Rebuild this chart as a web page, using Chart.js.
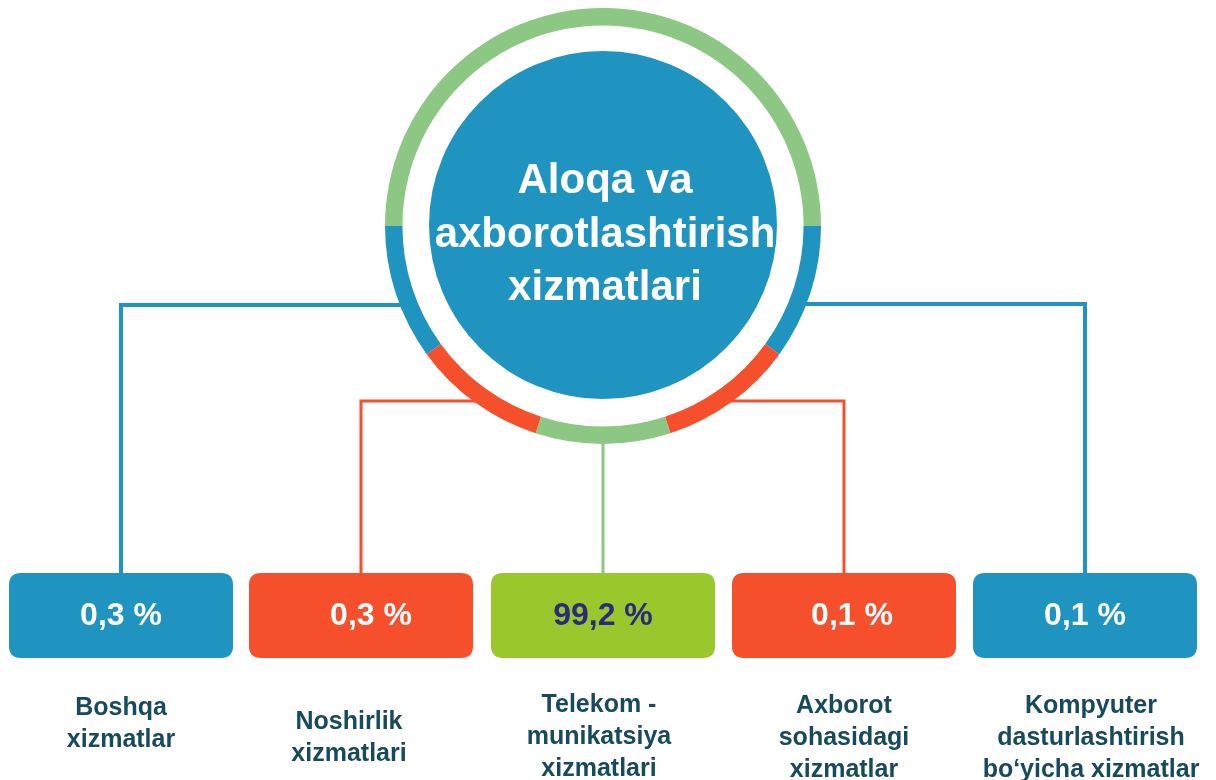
<!DOCTYPE html>
<html>
<head>
<meta charset="utf-8">
<title>Aloqa va axborotlashtirish xizmatlari</title>
<script src="https://cdn.jsdelivr.net/npm/chart.js@4/dist/chart.umd.min.js"></script>
<style>
  html, body { margin: 0; padding: 0; background: #fff; }
  canvas { display: block; }
</style>
</head>
<body>
<canvas id="ring" width="1216" height="780"></canvas>
<script>
// data
const title = ['Aloqa va', 'axborotlashtirish', 'xizmatlari'];
const categories = [
    ['Boshqa', 'xizmatlar'],
    ['Noshirlik', 'xizmatlari'],
    ['Telekom -', 'munikatsiya', 'xizmatlari'],
    ['Axborot', 'sohasidagi', 'xizmatlar'],
    ['Kompyuter', 'dasturlashtirish', 'bo‘yicha xizmatlar']
];
const shares = [0.3, 0.3, 99.2, 0.1, 0.1];

// decorative ring, in degrees, clockwise from 9 o'clock
const ringSpans = [180, 36, 36, 36, 36, 36];

const BLUE = '#2094c0';
const RED = '#f54f2c';
const LIGHT_GREEN = '#8cc783';
const BOX_GREEN = '#9ac82c';

const ringColors = [LIGHT_GREEN, BLUE, RED, LIGHT_GREEN, RED, BLUE];
const boxColors = [BLUE, RED, BOX_GREEN, RED, BLUE];
const valueColors = ['#ffffff', '#ffffff', '#2b2a7c', '#ffffff', '#ffffff'];
const lineColors = [BLUE, RED, LIGHT_GREEN, RED, BLUE];

// layout
const boxCenters = [121, 361, 603, 844, 1085];
const connectorLevels = [305, 401, null, 401, 304];
const lineWidths = [4, 3, 3, 3, 4];
const valueShift = [0, 10, 0, 8, 0];
const labelCenters = [121, 349, 599, 844, 1091];
const labelBaselines = [715, 729, 712, 713, 713];
const BOX_W = 224, BOX_TOP = 573, BOX_H = 85, BOX_R = 12;

const fmt = function (v) {
    return v.toFixed(1).replace('.', ',') + ' %';
};

const roundRect = function (ctx, x, y, w, h, r) {
    ctx.beginPath();
    ctx.moveTo(x + r, y);
    ctx.lineTo(x + w - r, y);
    ctx.quadraticCurveTo(x + w, y, x + w, y + r);
    ctx.lineTo(x + w, y + h - r);
    ctx.quadraticCurveTo(x + w, y + h, x + w - r, y + h);
    ctx.lineTo(x + r, y + h);
    ctx.quadraticCurveTo(x, y + h, x, y + h - r);
    ctx.lineTo(x, y + r);
    ctx.quadraticCurveTo(x, y, x + r, y);
    ctx.closePath();
};

const infographic = {
    id: 'infographic',
    beforeDatasetsDraw(chart) {
        const ctx = chart.ctx;
        const arc = chart.getDatasetMeta(0).data[0];
        const cx = arc.x, cy = arc.y, R = arc.outerRadius;
        ctx.save();
        ctx.lineJoin = 'miter';
        boxCenters.forEach(function (bx, i) {
            ctx.strokeStyle = lineColors[i];
            ctx.lineWidth = lineWidths[i];
            ctx.beginPath();
            const lvl = connectorLevels[i];
            if (lvl === null) {
                ctx.moveTo(bx, cy + R - 2);
            } else {
                const dx = Math.sqrt(R * R - (lvl - cy) * (lvl - cy)) - 4;
                const sx = bx < cx ? cx - dx : cx + dx;
                ctx.moveTo(sx, lvl);
                ctx.lineTo(bx, lvl);
            }
            ctx.lineTo(bx, BOX_TOP + 2);
            ctx.stroke();
        });
        ctx.restore();
    },
    afterDatasetsDraw(chart) {
        const ctx = chart.ctx;
        const arc = chart.getDatasetMeta(0).data[0];
        const cx = arc.x, cy = arc.y;
        ctx.save();
        // centre disc
        ctx.fillStyle = BLUE;
        ctx.beginPath();
        ctx.arc(cx, cy - 1, 174, 0, Math.PI * 2);
        ctx.fill();
        ctx.fillStyle = '#ffffff';
        ctx.font = 'bold 42px "Liberation Sans", Arial, sans-serif';
        ctx.textAlign = 'center';
        ctx.textBaseline = 'alphabetic';
        title.forEach(function (line, j) {
            ctx.fillText(line, cx + 2, 193 + j * 53.5);
        });

        // value boxes
        shares.forEach(function (v, i) {
            const bx = boxCenters[i];
            ctx.fillStyle = boxColors[i];
            roundRect(ctx, bx - BOX_W / 2, BOX_TOP, BOX_W, BOX_H, BOX_R);
            ctx.fill();
            ctx.fillStyle = valueColors[i];
            ctx.font = 'bold 32px "Liberation Sans", Arial, sans-serif';
            ctx.textBaseline = 'middle';
            ctx.fillText(fmt(v), bx + valueShift[i], BOX_TOP + BOX_H / 2 + 1);
        });

        // category labels
        ctx.fillStyle = '#174a5c';
        ctx.font = 'bold 25px "Liberation Sans", Arial, sans-serif';
        ctx.textBaseline = 'alphabetic';
        categories.forEach(function (lines, i) {
            lines.forEach(function (line, j) {
                ctx.fillText(line, labelCenters[i], labelBaselines[i] + j * 32);
            });
        });
        ctx.restore();
    }
};

new Chart(document.getElementById('ring'), {
    type: 'doughnut',
    data: {
        labels: ringColors.map(function (c, i) { return 'segment ' + (i + 1); }),
        datasets: [{
            data: ringSpans,
            backgroundColor: ringColors,
            borderWidth: 0
        }]
    },
    options: {
        responsive: false,
        animation: false,
        devicePixelRatio: 1,
        rotation: -90,
        cutout: '92%',
        layout: {
            padding: { left: 385, right: 395, top: 8, bottom: 336 }
        },
        plugins: {
            legend: { display: false },
            tooltip: { enabled: false }
        }
    },
    plugins: [infographic]
});
</script>
</body>
</html>
